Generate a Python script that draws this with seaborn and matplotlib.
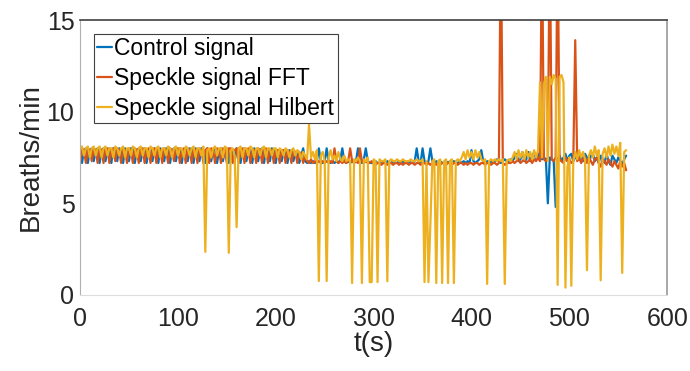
import numpy as np
import pandas as pd
import matplotlib
matplotlib.use("Agg")
import matplotlib.pyplot as plt
import seaborn as sns

# breathing rate estimates, one sample every 2 s
sample_period = 2

control = [
    8.0, 7.2, 7.9, 8.0, 7.2, 7.9, 8.0, 7.3, 7.9, 8.0,
    7.2, 7.9, 8.0, 7.3, 7.9, 8.0, 7.2, 8.0, 7.9, 7.3,
    8.0, 7.9, 7.2, 8.0, 7.9, 7.3, 8.0, 8.0, 7.2, 7.9,
    8.0, 7.3, 7.9, 8.0, 7.2, 7.9, 8.0, 7.3, 8.0, 7.9,
    7.2, 8.0, 7.9, 7.3, 8.0, 7.9, 7.2, 7.9, 8.0, 7.3,
    7.9, 8.0, 7.2, 7.9, 8.0, 7.3, 8.0, 7.9, 7.2, 8.0,
    7.9, 7.3, 8.0, 7.9, 7.2, 8.0, 7.9, 7.3, 7.9, 8.0,
    7.2, 7.9, 8.0, 7.3, 7.9, 8.0, 7.2, 7.9, 7.9, 7.3,
    8.0, 7.9, 7.2, 7.9, 8.0, 7.3, 7.9, 7.9, 7.2, 8.0,
    7.9, 7.3, 7.9, 8.0, 7.2, 7.9, 7.9, 7.3, 8.0, 7.9,
    7.2, 7.9, 7.9, 7.3, 7.9, 7.8, 7.2, 7.9, 7.8, 7.3,
    7.8, 7.7, 7.2, 7.6, 8.0, 7.3, 7.2, 7.3, 7.2, 7.3,
    7.2, 7.3, 8.0, 7.3, 7.2, 7.3, 8.0, 7.3, 7.2, 7.3,
    7.2, 7.3, 7.2, 7.4, 8.0, 7.3, 7.2, 7.3, 7.2, 7.3,
    7.2, 7.3, 8.0, 7.3, 7.2, 7.4, 8.0, 7.3, 7.2, 7.2,
    7.2, 7.3, 7.2, 7.2, 7.3, 7.2, 7.2, 7.3, 7.2, 7.2,
    7.3, 7.2, 7.2, 7.3, 7.2, 7.3, 7.2, 7.2, 7.3, 7.2,
    7.2, 7.3, 8.0, 7.3, 7.2, 8.0, 7.3, 7.2, 7.3, 8.0,
    7.3, 7.2, 7.3, 7.2, 7.3, 7.2, 7.2, 7.3, 7.2, 7.3,
    7.2, 7.3, 7.2, 7.2, 7.3, 7.2, 7.3, 7.2, 7.3, 7.2,
    7.9, 7.3, 7.2, 7.3, 7.4, 7.9, 7.3, 7.2, 7.3, 7.2,
    7.3, 7.2, 7.3, 7.4, 7.3, 7.2, 7.3, 7.4, 7.3, 7.3,
    7.4, 7.3, 7.5, 7.7, 7.3, 7.4, 7.8, 7.3, 7.4, 7.8,
    7.3, 7.5, 7.8, 7.4, 7.6, 7.8, 7.4, 7.5, 7.4, 5.0,
    7.5, 7.4, 7.3, 4.8, 7.4, 7.6, 7.3, 7.5, 7.7, 7.3,
    7.6, 7.7, 7.3, 7.5, 7.8, 7.4, 7.6, 7.3, 7.7, 7.5,
    7.2, 7.6, 7.7, 7.3, 7.5, 7.2, 7.6, 7.4, 7.2, 7.7,
    7.3, 7.1, 7.6, 7.4, 7.2, 7.5, 7.3, 7.1, 7.4, 7.6,
]

speckle_fft = [
    7.2, 8.0, 7.9, 7.2, 8.0, 7.9, 7.3, 8.0, 7.9, 7.2,
    8.0, 7.9, 7.2, 8.0, 8.0, 7.2, 7.9, 8.0, 7.3, 8.0,
    7.9, 7.2, 8.0, 7.9, 7.2, 8.0, 7.9, 7.2, 8.0, 7.9,
    7.2, 8.0, 8.0, 7.2, 7.9, 8.0, 7.2, 7.9, 8.0, 7.2,
    8.0, 7.9, 7.2, 8.0, 7.9, 7.2, 8.0, 7.9, 7.3, 8.0,
    8.0, 7.2, 7.9, 8.0, 7.2, 8.0, 7.9, 7.2, 8.0, 7.9,
    7.2, 8.0, 7.9, 7.2, 7.9, 8.0, 7.2, 8.0, 7.9, 7.2,
    8.0, 7.9, 7.2, 8.0, 7.9, 7.2, 8.0, 8.0, 7.2, 7.9,
    8.0, 7.2, 7.9, 8.0, 7.2, 7.9, 8.0, 7.2, 7.9, 7.9,
    7.2, 8.0, 7.9, 7.2, 7.9, 8.0, 7.2, 7.9, 7.9, 7.2,
    7.9, 7.9, 7.2, 7.9, 7.9, 7.2, 7.9, 7.8, 7.2, 7.9,
    7.8, 7.2, 7.8, 7.7, 7.2, 7.6, 7.3, 7.2, 7.4, 7.2,
    7.3, 7.2, 7.3, 7.2, 7.3, 7.2, 7.3, 7.2, 7.3, 7.2,
    8.0, 7.3, 7.2, 7.3, 7.2, 7.3, 7.2, 7.3, 8.0, 7.3,
    7.2, 7.3, 7.2, 8.0, 7.3, 7.2, 7.3, 7.2, 7.2, 7.3,
    7.2, 7.1, 7.2, 7.2, 7.1, 7.2, 7.2, 7.1, 7.2, 7.2,
    7.1, 7.2, 7.2, 7.1, 7.2, 7.1, 7.2, 7.2, 7.1, 7.2,
    7.2, 7.1, 7.2, 7.2, 7.1, 7.2, 7.2, 7.1, 7.2, 7.1,
    7.2, 7.2, 7.1, 7.2, 7.1, 7.2, 7.2, 7.1, 7.2, 7.2,
    7.1, 7.2, 7.2, 7.1, 7.2, 7.2, 7.1, 7.2, 7.1, 7.2,
    7.2, 7.1, 7.2, 7.2, 7.1, 7.2, 7.2, 7.1, 7.2, 7.2,
    7.1, 7.2, 7.2, 7.1, 7.2, 20.0, 7.2, 7.1, 7.2, 7.2,
    7.2, 7.3, 7.2, 7.3, 7.4, 7.2, 7.3, 7.4, 7.2, 7.3,
    7.4, 7.2, 7.4, 7.3, 7.5, 7.3, 20.0, 7.4, 7.3, 7.5,
    20.0, 7.4, 7.3, 7.5, 20.0, 7.4, 7.3, 7.2, 7.5, 7.3,
    7.4, 7.2, 7.3, 13.9, 7.3, 7.5, 7.2, 7.4, 7.5, 7.2,
    7.5, 7.3, 7.1, 7.4, 7.5, 7.2, 7.0, 7.4, 7.3, 7.1,
    7.4, 7.2, 7.0, 7.3, 7.1, 6.9, 7.3, 7.0, 7.2, 6.8,
]

speckle_hilbert = [
    8.0, 8.1, 7.6, 8.0, 8.1, 7.5, 8.0, 8.1, 7.6, 8.0,
    8.1, 7.5, 8.0, 8.1, 7.6, 8.0, 8.0, 7.5, 8.1, 8.0,
    7.6, 8.0, 8.1, 7.5, 8.0, 8.0, 7.6, 8.1, 8.0, 7.5,
    8.0, 8.1, 7.6, 8.0, 8.0, 7.5, 8.1, 8.0, 7.6, 8.0,
    8.1, 7.5, 8.0, 8.0, 7.6, 8.1, 8.0, 7.5, 8.0, 8.1,
    7.6, 8.0, 8.0, 7.5, 8.1, 8.0, 7.6, 8.0, 8.1, 7.5,
    8.0, 8.0, 7.6, 8.1, 2.35, 7.9, 8.0, 7.5, 8.0, 8.1,
    7.6, 8.0, 8.0, 7.5, 8.1, 8.0, 2.3, 7.9, 8.0, 7.6,
    3.7, 8.0, 8.1, 7.5, 8.0, 8.0, 7.6, 8.1, 8.0, 7.5,
    8.0, 8.0, 7.6, 8.0, 8.1, 7.5, 8.0, 8.0, 7.6, 8.0,
    8.0, 7.5, 8.0, 7.9, 7.6, 8.0, 7.9, 7.5, 7.9, 8.0,
    7.6, 7.9, 7.8, 7.4, 7.8, 7.6, 7.4, 9.3, 7.5, 7.8,
    7.4, 7.9, 0.76, 7.6, 7.8, 7.3, 0.76, 7.5, 7.9, 7.4,
    7.6, 7.3, 7.8, 7.4, 7.3, 7.6, 7.3, 7.4, 7.3, 0.65,
    7.4, 7.3, 7.5, 7.3, 0.65, 7.4, 7.3, 7.5, 0.7, 0.7,
    7.4, 7.3, 0.7, 7.4, 7.3, 7.3, 7.4, 0.75, 7.3, 7.4,
    7.3, 7.3, 7.4, 7.3, 7.3, 7.4, 7.3, 7.3, 7.3, 7.4,
    7.3, 7.3, 7.4, 7.3, 7.3, 7.4, 0.7, 7.3, 0.7, 3.9,
    7.3, 7.4, 0.65, 7.3, 7.4, 0.65, 7.3, 7.4, 0.65, 7.3,
    7.4, 0.65, 7.3, 7.4, 7.3, 7.5, 7.8, 7.4, 7.9, 7.5,
    7.8, 7.4, 7.9, 7.5, 7.8, 7.4, 7.3, 7.4, 0.6, 7.3,
    7.4, 7.3, 7.4, 7.3, 7.4, 7.3, 7.4, 0.6, 7.3, 7.4,
    7.3, 7.5, 7.8, 7.4, 7.9, 7.5, 7.8, 7.4, 7.9, 7.5,
    7.8, 7.4, 7.9, 7.5, 7.9, 11.6, 7.5, 11.5, 11.9, 7.3,
    11.9, 11.5, 12.0, 11.8, 0.55, 11.9, 12.0, 11.6, 0.4, 7.0,
    7.5, 0.5, 7.3, 7.8, 7.4, 7.9, 7.5, 7.8, 7.4, 1.35,
    7.6, 7.9, 7.5, 8.1, 7.6, 7.9, 0.8, 7.7, 8.0, 7.5,
    8.1, 7.6, 8.2, 7.7, 8.1, 7.6, 8.3, 1.2, 7.8, 7.9,
]

signal_names = ["Control signal", "Speckle signal FFT", "Speckle signal Hilbert"]
signal_colors = ["#0072BD", "#D95319", "#EDB120"]

frames = []
for name, values in zip(signal_names, [control, speckle_fft, speckle_hilbert]):
    frames.append(pd.DataFrame({
        "t": np.arange(len(values)) * sample_period,
        "rate": values,
        "signal": name,
    }))
df = pd.concat(frames, ignore_index=True)

sns.set_style("white")
plt.rcParams["font.family"] = ["Liberation Sans", "DejaVu Sans"]
text_color = "#262626"

fig = plt.figure(figsize=(6.9, 3.71), dpi=100)
ax = fig.add_axes([0.116, 0.205, 0.851, 0.741])

sns.lineplot(data=df, x="t", y="rate", hue="signal", hue_order=signal_names,
             palette=signal_colors, linewidth=1.6, estimator=None, sort=False, ax=ax)

ax.set_xlim(0, 600)
ax.set_ylim(0, 15)
ax.set_xticks(range(0, 601, 100))
ax.set_yticks([0, 5, 10, 15])
ax.set_xlabel("t(s)", fontsize=20, color=text_color, labelpad=0)
ax.set_ylabel("Breaths/min", fontsize=20, color=text_color, labelpad=2)
ax.tick_params(axis="both", direction="in", length=5, width=0.8, color="#b0b0b0",
               labelsize=18, labelcolor=text_color, pad=4)
ax.tick_params(axis="x", pad=9)

ax.spines["top"].set_color("#404040")
ax.spines["top"].set_linewidth(1.2)
ax.spines["right"].set_color("#a0a0a0")
ax.spines["right"].set_linewidth(1.3)
ax.spines["left"].set_color("#b0b0b0")
ax.spines["bottom"].set_color("#dddddd")
for s in ax.spines.values():
    s.set_visible(True)

handles, labels = ax.get_legend_handles_labels()
leg = ax.legend(handles, labels, loc="upper left", fontsize=16.5, frameon=True,
                fancybox=False, framealpha=1, edgecolor="#404040",
                handlelength=0.65, handletextpad=0.1, labelspacing=0.3,
                borderpad=0.15, borderaxespad=0.6)
leg.get_frame().set_linewidth(0.8)
for txt in leg.get_texts():
    txt.set_color("black")

fig.savefig("out.png", dpi=100)
